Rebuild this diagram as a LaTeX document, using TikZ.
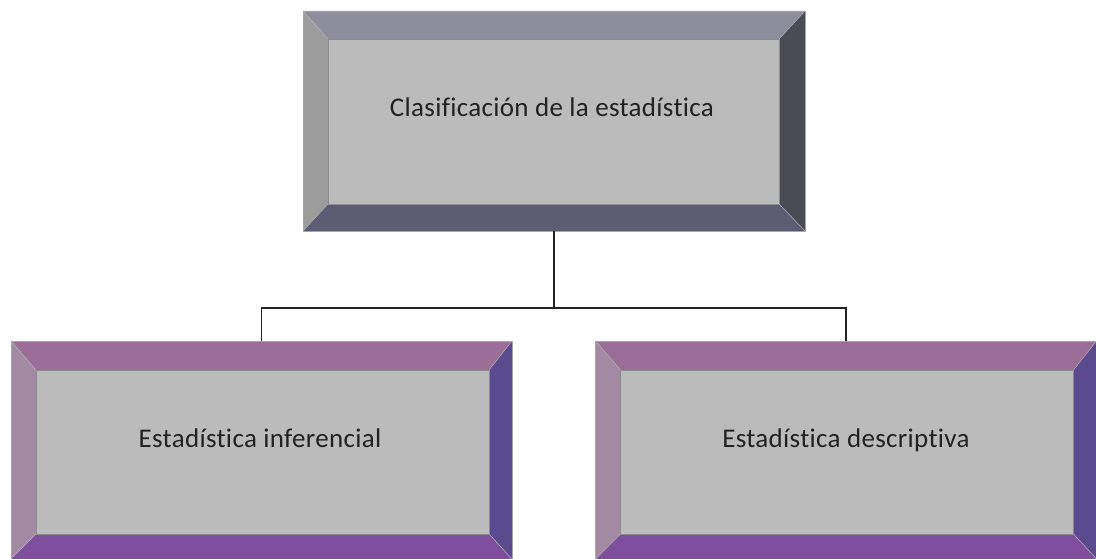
\documentclass[tikz,border=0pt]{standalone}
\usepackage{fontspec}
\setmainfont{Carlito}[Ligatures={NoCommon,NoRare}, LetterSpace=1.2]
\usetikzlibrary{calc}
\definecolor{face}{HTML}{BBBBBB}
\definecolor{gTop}{HTML}{8D8D9B}
\definecolor{gLeft}{HTML}{9C9C9C}
\definecolor{gRight}{HTML}{4B4B54}
\definecolor{gBot}{HTML}{5C5C72}
\definecolor{pTop}{HTML}{9A6E97}
\definecolor{pLeft}{HTML}{A28AA2}
\definecolor{pRight}{HTML}{5A4A8E}
\definecolor{pBot}{HTML}{7F4F9D}
\definecolor{ink}{HTML}{222222}
\tikzset{
  outerbox/.style={rectangle, inner sep=0pt, draw=none},
  label/.style={font=\fontsize{27}{30}\selectfont, text=ink, anchor=base, inner sep=0pt},
  link/.style={draw=ink, line width=1.8pt},
  edge/.style={draw=black!45, line width=0.6pt}
}
\newcommand{\bevelbox}[9]{%
  % #1 x1 #2 y1 #3 x2 #4 y2 #5 l #6 t #7 r #8 b #9 prefix (g or p)
  \fill[#9Top] (#1,#2) -- (#3,#2) -- (#3-#7,#2+#6) -- (#1+#5,#2+#6) -- cycle;
  \fill[#9Left] (#1,#2) -- (#1+#5,#2+#6) -- (#1+#5,#4-#8) -- (#1,#4) -- cycle;
  \fill[#9Right] (#3,#2) -- (#3,#4) -- (#3-#7,#4-#8) -- (#3-#7,#2+#6) -- cycle;
  \fill[#9Bot] (#1,#4) -- (#3,#4) -- (#3-#7,#4-#8) -- (#1+#5,#4-#8) -- cycle;
  \fill[face] (#1+#5,#2+#6) rectangle (#3-#7,#4-#8);
  \draw[edge] (#1+#5,#2+#6) rectangle (#3-#7,#4-#8);
  \draw[white!70!black, line width=0.5pt] (#1,#2) -- (#1+#5,#2+#6) (#3,#4) -- (#3-#7,#4-#8)
     (#3,#2) -- (#3-#7,#2+#6) (#1,#4) -- (#1+#5,#4-#8);
  \draw[black!35, line width=0.5pt] (#1,#2) rectangle (#3,#4);
}
\begin{document}
\begin{tikzpicture}[x=1pt,y=-1pt]
\useasboundingbox (0,0) rectangle (1096,559);
\fill[white] (0,0) rectangle (1096,559);
\node[outerbox, minimum width=502pt, minimum height=220pt] (root) at (554,121) {};
\node[outerbox, minimum width=501pt, minimum height=218pt] (infer) at (261.5,450) {};
\node[outerbox, minimum width=501pt, minimum height=218pt] (descr) at (846,450) {};
\bevelbox{303}{11}{805}{231}{25}{28}{26}{27}{g}
\bevelbox{11}{341}{512}{559}{25}{29}{23}{25}{p}
\bevelbox{595.5}{341}{1096.5}{559}{25}{29}{23}{25}{p}
\node[label] (t0) at (552,117) {Clasificación de la estadística};
\node[label] (t1) at (260,447) {Estadística inferencial};
\node[label] (t2) at (846,447) {Estadística descriptiva};
\coordinate (split) at ($(root.south)+(0,77)$);
\draw[link] (root.south) -- (split);
\draw[link] (infer.north) |- (split) -| (descr.north);
\end{tikzpicture}
\end{document}
